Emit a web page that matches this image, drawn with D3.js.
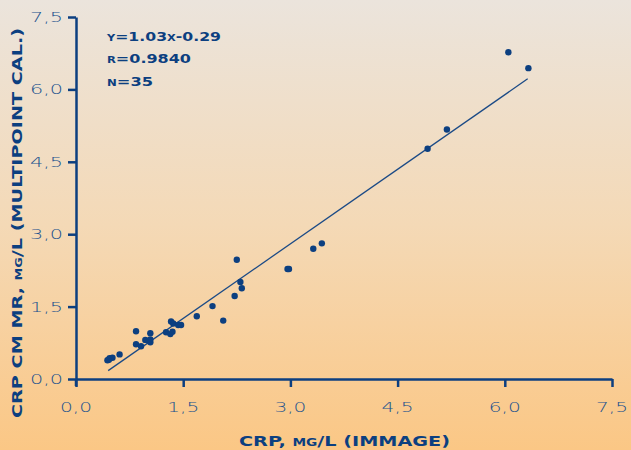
<!DOCTYPE html>
<html><head><meta charset="utf-8">
<script src="https://cdn.jsdelivr.net/npm/d3@7"></script>
<style>html,body{margin:0;padding:0;overflow:hidden;}svg{display:block;}</style>
</head><body>
<script>
const W = 631, H = 450;
// Data
const xValues = [0.44,0.47,0.51,0.61,0.84,0.84,0.91,0.97,1.04,1.04,1.04,1.26,1.32,1.35,1.33,1.36,1.43,1.47,1.69,1.91,2.06,2.22,2.25,2.30,2.32,2.96,2.98,3.32,3.44,4.92,5.19,6.05,6.33,0.46,1.02];
const yValues = [0.39,0.43,0.44,0.51,0.99,0.72,0.68,0.81,0.95,0.82,0.76,0.97,0.93,0.98,1.19,1.15,1.12,1.12,1.30,1.51,1.21,1.72,2.47,2.01,1.88,2.28,2.28,2.70,2.81,4.77,5.17,6.77,6.44,0.40,0.79];
const tickValues = [0, 1.5, 3.0, 4.5, 6.0, 7.5];
const tickLabels = ["0,0","1,5","3,0","4,5","6,0","7,5"];
const fitSlope = 1.03, fitIntercept = -0.29, fitRange = [0.45, 6.32];
const statLines = ["y=1.03x-0.29", "r=0.9840", "n=35"];
const xTitle = "CRP, mg/L (IMMAGE)";
const yTitle = "CRP CM MR, mg/L (MULTIPOINT CAL.)";

const blue = "#0c3f80", tickBlue = "#22528e";
const svg = d3.select("body").append("svg").attr("width", W).attr("height", H);
const defs = svg.append("defs");
const grad = defs.append("linearGradient").attr("id","bg").attr("x1",0).attr("y1",0).attr("x2",0).attr("y2",1);
grad.append("stop").attr("offset","0%").attr("stop-color","#ebe4dc");
grad.append("stop").attr("offset","50%").attr("stop-color","#f4d9b6");
grad.append("stop").attr("offset","100%").attr("stop-color","#fbc785");
svg.append("rect").attr("width",W).attr("height",H).attr("fill","url(#bg)");

const x = d3.scaleLinear().domain([0,7.5]).range([76,612]);
const y = d3.scaleLinear().domain([0,7.5]).range([379,17]);

// axes
const xAxis = svg.append("g").attr("transform","translate(0,379)")
  .call(d3.axisBottom(x).tickValues(tickValues).tickSize(8).tickSizeOuter(0).tickFormat(""));
const yAxis = svg.append("g").attr("transform","translate(76,0)")
  .call(d3.axisLeft(y).tickValues(tickValues).tickSize(8).tickSizeOuter(0).tickFormat(""));
[xAxis,yAxis].forEach(g=>{
  g.select(".domain").attr("stroke",blue).attr("stroke-width",2.5);
  g.selectAll(".tick line").attr("stroke",blue).attr("stroke-width",2.5);
});
svg.append("line").attr("x1",76).attr("x2",76).attr("y1",y(0)).attr("y2",y(0)+7).attr("stroke",blue).attr("stroke-width",2.5);

// tick labels
const lblFont = "'DejaVu Sans', sans-serif";
svg.append("g").selectAll("text").data(tickValues).join("text")
  .attr("x", d=>x(d)-16).attr("y", 411.5)
  .attr("textLength",32).attr("lengthAdjust","spacingAndGlyphs")
  .attr("font-family",lblFont).attr("font-weight",200).attr("font-size",14).attr("fill",tickBlue)
  .text((d,i)=>tickLabels[i]);
svg.append("g").selectAll("text").data(tickValues).join("text")
  .attr("x", 30).attr("y", d=>y(d)+5)
  .attr("textLength",33).attr("lengthAdjust","spacingAndGlyphs")
  .attr("font-family",lblFont).attr("font-weight",200).attr("font-size",14).attr("fill",tickBlue)
  .text((d,i)=>tickLabels[i]);

// regression line
svg.append("line")
  .attr("x1",x(fitRange[0])).attr("y1",y(fitSlope*fitRange[0]+fitIntercept))
  .attr("x2",x(fitRange[1])).attr("y2",y(fitSlope*fitRange[1]+fitIntercept))
  .attr("stroke","#1b4a86").attr("stroke-width",1.3);

// points
svg.append("g").selectAll("circle").data(xValues).join("circle")
  .attr("cx",(d)=>x(d)).attr("cy",(d,i)=>y(yValues[i])).attr("r",3.2).attr("fill",blue);

// stats
const statW = [114, 84, 46];
const statY = [40.5, 62.5, 85.5];
svg.append("g").selectAll("text").data(statLines).join("text")
  .attr("x",107).attr("y",(d,i)=>statY[i])
  .attr("textLength",(d,i)=>statW[i]).attr("lengthAdjust","spacingAndGlyphs")
  .attr("font-family","'DejaVu Sans', sans-serif").attr("font-weight","bold")
  .attr("font-size",12.5).style("font-variant","small-caps").attr("fill",blue)
  .text(d=>d);

// axis titles
svg.append("text").attr("x",239).attr("y",446)
  .attr("textLength",211).attr("lengthAdjust","spacingAndGlyphs")
  .attr("font-family","'DejaVu Sans', sans-serif").attr("font-weight","bold")
  .attr("font-size",14).style("font-variant","small-caps").attr("fill",blue)
  .text(xTitle);
svg.append("text").attr("transform","translate(21.5,418) rotate(-90)")
  .attr("x",0).attr("y",0)
  .attr("textLength",390).attr("lengthAdjust","spacingAndGlyphs")
  .attr("font-family","'DejaVu Sans', sans-serif").attr("font-weight","bold")
  .attr("font-size",13.5).style("font-variant","small-caps").attr("fill",blue)
  .text(yTitle);
</script>
</body></html>
